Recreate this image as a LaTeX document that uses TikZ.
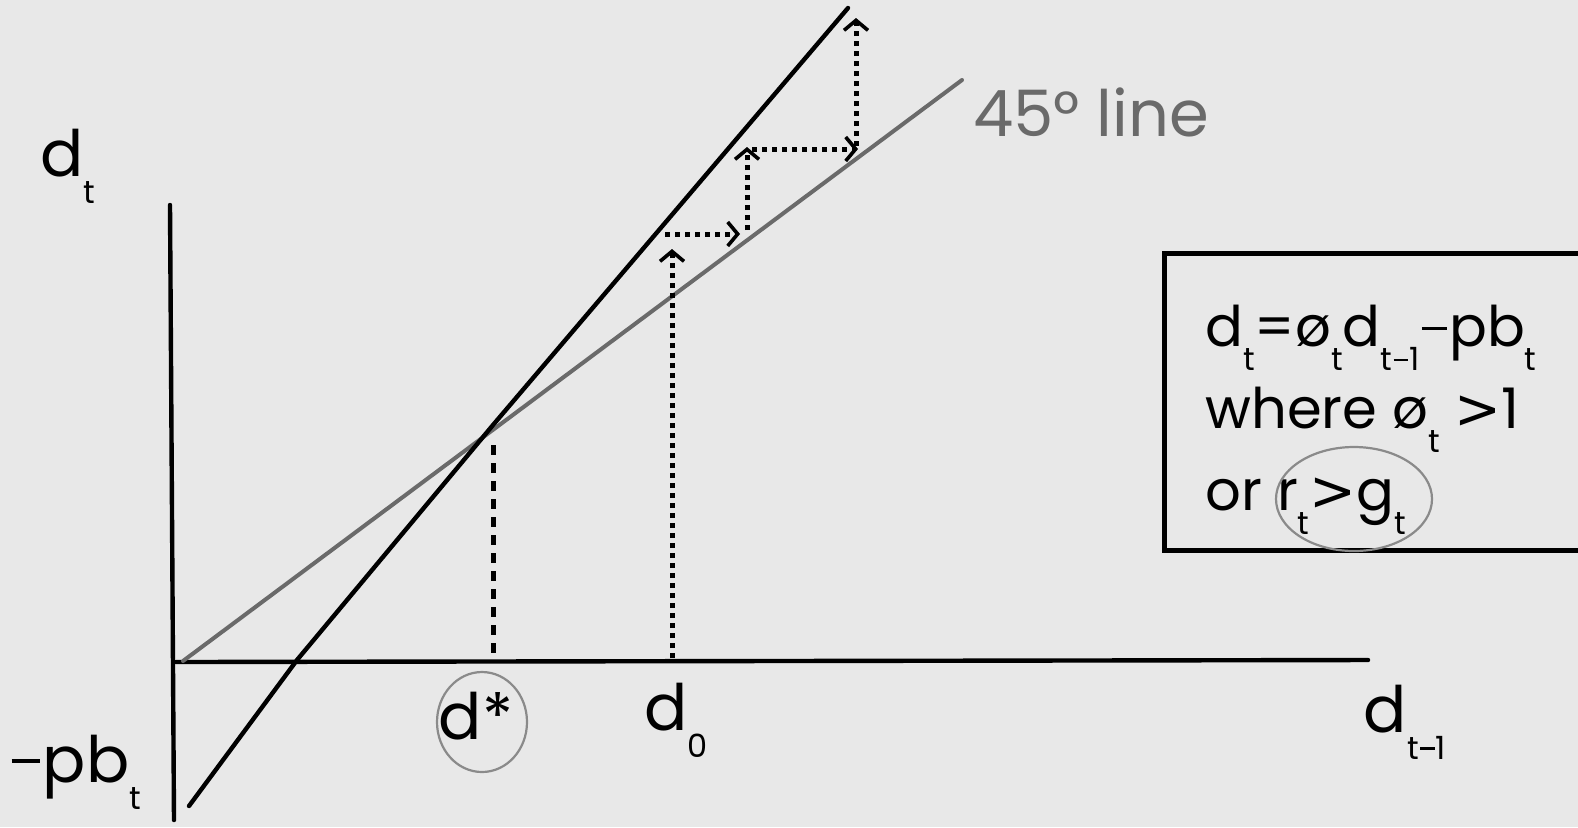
\documentclass[tikz,border=0pt]{standalone}
\usepackage{fontspec}
\setmainfont{Poppins}
\newfontfamily\symf{DejaVu Sans}
\usetikzlibrary{arrows.meta}
\definecolor{bg}{HTML}{E8E8E8}
\definecolor{lgray}{HTML}{6A6A6A}
\definecolor{cgray}{HTML}{8A8A8A}
\newcommand\sbt[1]{\raisebox{-0.42em}{\fontsize{16}{16}\selectfont #1}}
\newcommand\mnus{\kern0.04em\rule[0.3em]{0.45em}{0.065em}\kern0.04em}
\newcommand\gtr{{\symf >}}
\begin{document}
\begin{tikzpicture}[x=0.5pt,y=-0.5pt,
  axisline/.style={line width=2.2pt,line cap=round},
  steepline/.style={line width=2.2pt,line join=round,line cap=round},
  fortyfive/.style={line width=2pt,draw=lgray,line cap=round},
  dotarrow/.style={line width=2.5pt,dash pattern=on 2.5pt off 2.5pt,
     -{Straight Barb[length=5pt,width=12pt,line width=1.8pt]}},
  dstar/.style={line width=2.5pt,dash pattern=on 5pt off 4pt},
  lbl/.style={font=\fontsize{32}{40}\selectfont,inner sep=0pt},
  circ/.style={draw=cgray,line width=1.1pt},
  eqbox/.style={line width=2.5pt}]
\useasboundingbox (0,0) rectangle (1578,827);
\clip (0,0) rectangle (1578,827);
\fill[bg] (0,0) rectangle (1578,827);
% coordinates
\coordinate (ytop) at (170,205);
\coordinate (ybot) at (174,820);
\coordinate (O) at (176,662);
\coordinate (xend) at (1368,660);
\coordinate (s0) at (189,806);
\coordinate (s1) at (297,660);
\coordinate (E) at (493,425);
\coordinate (s3) at (848,8);
\coordinate (g0) at (183,661);
\coordinate (g1) at (962,80);
% axes
\draw[axisline] (ytop) -- (ybot);
\draw[axisline] (O) -- (xend);
% lines
\draw[fortyfive] (g0) -- (g1);
\draw[steepline] (s0) -- (s1) -- (E) -- (s3);
% d* dashed
\coordinate (ds0) at (493,445);
\coordinate (ds1) at (493,660);
\draw[dstar] (ds0) -- (ds1);
% cobweb
\coordinate (a0) at (672,658);
\coordinate (a1) at (672,249);
\coordinate (b0) at (665,234);
\coordinate (b1) at (740,234);
\coordinate (c0) at (747,230);
\coordinate (c1) at (747,147);
\coordinate (d0p) at (752,149);
\coordinate (d1) at (858,149);
\coordinate (e0) at (856,146);
\coordinate (e1) at (856,18);
\draw[dotarrow] (a0) -- (a1);
\draw[dotarrow] (b0) -- (b1);
\draw[dotarrow] (c0) -- (c1);
\draw[dotarrow] (d0p) -- (d1);
\draw[dotarrow] (e0) -- (e1);
% labels
\node[lbl] (ldt) at (68,166) {d\sbt{t}};
\node[lbl] (lpb) at (75,772) {\mnus pb\sbt{t}};
\node[lbl] (lds) at (476,716) {d*};
\node[lbl] (ld0) at (676,720) {d\sbt{0}};
\node[lbl] (ldt1) at (1405,722) {d\sbt{t\mnus1}};
\node[lbl,text=lgray] (l45) at (1091,112) {45° line};
\draw[circ] (482,722) ellipse [x radius=22.5pt,y radius=25pt];
% equation box
\draw[eqbox] (1164,253) rectangle (1620,550);
\node[lbl,anchor=west,align=left,font=\fontsize{28}{41}\selectfont] (eq) at (1205,420)
 {d\sbt{t}={ø}\sbt{t}d\sbt{t\mnus1}\mnus pb\sbt{t}\\where ø\sbt{t} \gtr1\\or r\sbt{t}\gtr g\sbt{t}};
\draw[circ] (1354,499) ellipse [x radius=39pt,y radius=26pt];
\end{tikzpicture}
\end{document}
